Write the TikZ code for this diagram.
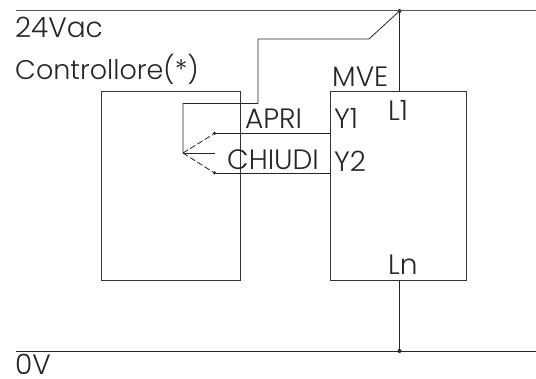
\documentclass[tikz,border=0pt]{standalone}
\usepackage{fontspec}
\setmainfont[UprightFont=* Light]{Poppins}
\tikzset{
  wire/.style={draw=black!85,line width=0.8pt},
  busline/.style={draw=black!65,line width=1pt},
  dotnode/.style={circle,fill=black!85,inner sep=0pt,minimum size=4pt},
  lab/.style={anchor=base west,inner sep=0pt,text=black!85,font=\fontsize{28}{32}\selectfont},
  boxnode/.style={draw=black!80,line width=0.8pt,anchor=north west,inner sep=0pt}
}
\begin{document}
\begin{tikzpicture}[x=1pt,y=-1pt]
\useasboundingbox (0,0) rectangle (536,379);
\node[boxnode,minimum width=139pt,minimum height=189pt] (ctrl) at (101,91) {};
\node[boxnode,minimum width=136pt,minimum height=189pt] (mve) at (330,91) {};
\coordinate (busL) at (16,11);
\coordinate (busR) at (536,11);
\coordinate (gndL) at (16,351);
\coordinate (gndR) at (536,351);
\node[dotnode] (top) at (399.5,11) {};
\node[dotnode] (bot) at (399.5,351) {};
\draw[busline] (busL) -- (busR);
\draw[wire] (gndL) -- (gndR);
\coordinate (mveTop) at (399.5,91);
\coordinate (mveBot) at (399.5,280);
\draw[wire] (top) -- (mveTop);
\draw[wire] (bot) -- (mveBot);
\node[dotnode,minimum size=3.5pt] (apri) at (214.5,133.5) {};
\node[dotnode,minimum size=3.5pt] (chiudi) at (214.5,173) {};
\coordinate (y1) at (330,133.5);
\coordinate (y2) at (330,173);
\draw[wire] (apri) -- (y1);
\draw[wire] (chiudi) -- (y2);
\coordinate (piv) at (183,153);
\coordinate (stub) at (214.5,153);
\coordinate (c1) at (183,103.5);
\coordinate (c2) at (258,103.5);
\coordinate (c3) at (258,39);
\coordinate (c4) at (369,39);
\draw[wire,line join=miter] (top) -- (c4) -- (c3) -- (c2) -- (c1) -- (piv);
\draw[wire] (piv) -- (stub);
\draw[wire,dashed,dash pattern=on 6pt off 2.5pt] (piv) -- (apri);
\draw[wire,dashed,dash pattern=on 6pt off 2.5pt] (piv) -- (chiudi);
\node[lab] (t24) at (15,37.5) {24Vac};
\node[lab,font=\fontsize{27}{32}\selectfont] (tctrl) at (15,80) {Controllore(*)};
\node[lab] (t0v) at (15,375) {0V};
\node[lab] (tmve) at (332,87) {MVE};
\node[lab] (tl1) at (388,120.5) {L1};
\node[lab] (ty1) at (334,129) {Y1};
\node[lab] (ty2) at (334,172) {Y2};
\node[lab] (tapri) at (245,129) {APRI};
\node[lab] (tchiudi) at (227,170) {CHIUDI};
\node[lab] (tln) at (388,275) {Ln};
\end{tikzpicture}
\end{document}
